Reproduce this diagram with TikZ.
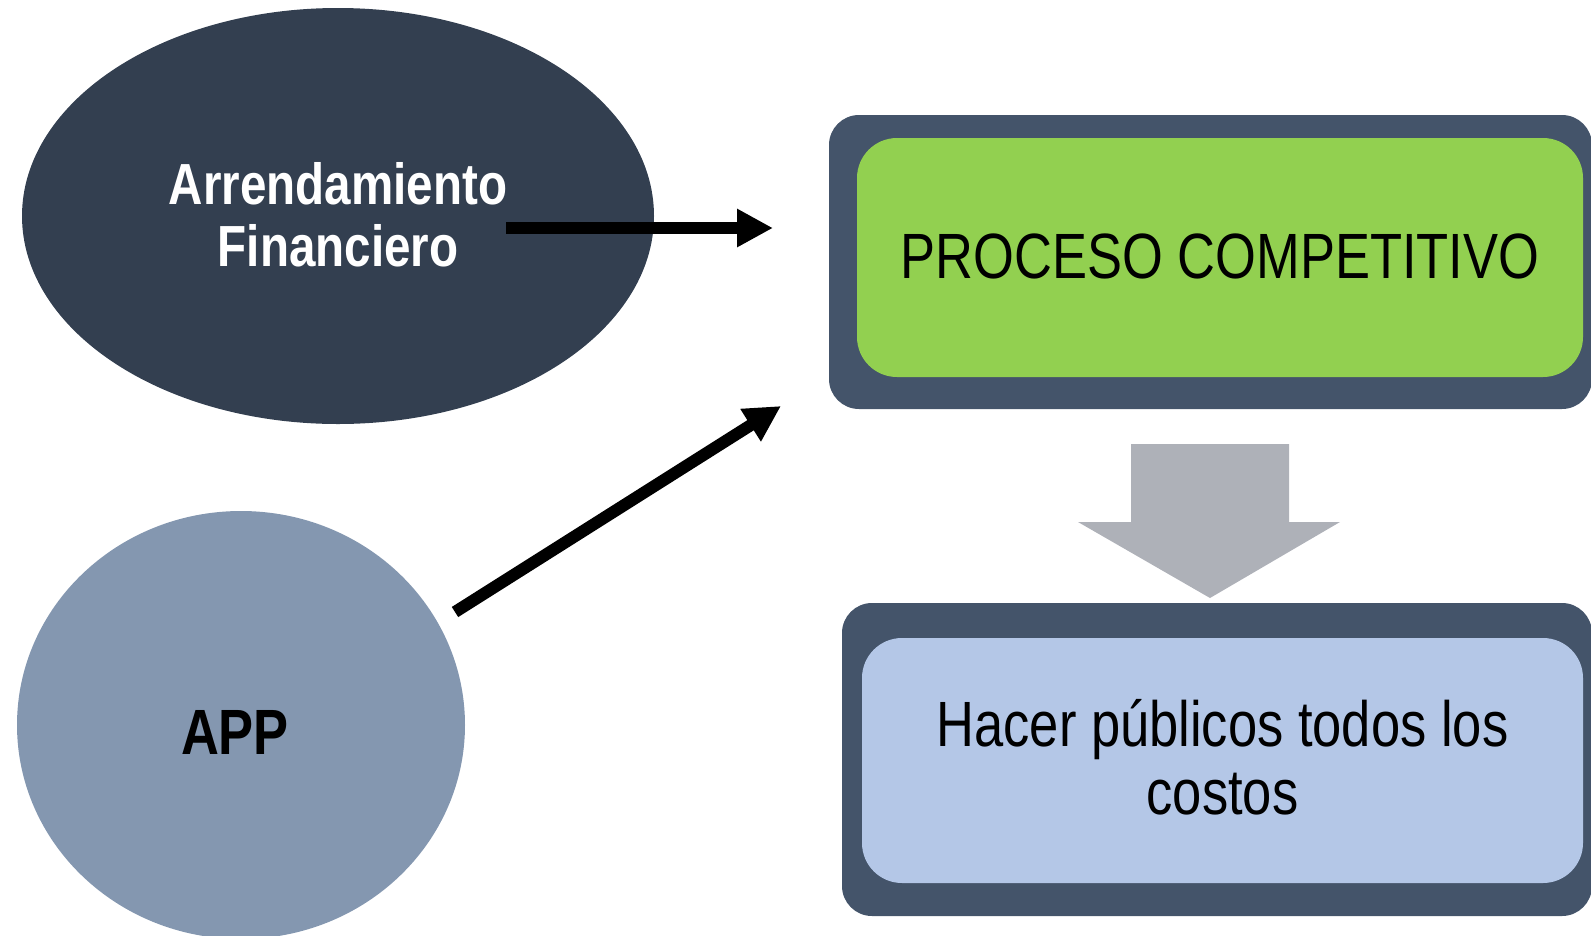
\documentclass[tikz,border=0pt]{standalone}
\usepackage{fontspec}
\setmainfont{Liberation Sans}
\newfontfamily\narrow[FakeStretch=0.82]{Liberation Sans}
\usetikzlibrary{shapes.geometric,arrows.meta}
\definecolor{oscuro}{HTML}{333F50}
\definecolor{marcoazul}{HTML}{44546A}
\definecolor{azulgris}{HTML}{8497B0}
\definecolor{verde}{HTML}{92D050}
\definecolor{celeste}{HTML}{B4C7E7}
\definecolor{gris}{HTML}{AEB1B8}
\begin{document}
\begin{tikzpicture}[x=1pt,y=-1pt,
	flecha/.style={line width=12pt,-{Triangle[length=36pt,width=36pt]}},
	marco/.style={fill=marcoazul,rounded corners=30pt,inner sep=0pt},
	caja/.style={rounded corners=40pt,inner sep=0pt},
	texto/.style={font=\narrow\fontsize{64}{68}\selectfont,align=center,inner sep=0pt},
	negrita/.style={font=\narrow\bfseries\fontsize{58}{62}\selectfont,align=center,inner sep=0pt}]
		\useasboundingbox (0,0) rectangle (1591,935);
		% ellipses
		\node[ellipse,fill=oscuro,minimum width=632pt,minimum height=416pt] (fin) at (338,216) {};
		\node[negrita,text=white] (finT) at (338,215) {Arrendamiento\\Financiero};
		\node[ellipse,fill=azulgris,minimum width=448pt,minimum height=428pt] (app) at (241,725) {};
		\node[negrita,font=\narrow\bfseries\fontsize{64}{68}\selectfont] (appT) at (235,732) {APP};
		% boxes
		\node[marco,minimum width=763pt,minimum height=294pt] (proc) at (1210.5,262) {};
		\node[caja,fill=verde,minimum width=726pt,minimum height=239pt] (procC) at (1220,257.5) {};
		\node[texto] (procT) at (1220,256) {PROCESO COMPETITIVO};
		\node[marco,minimum width=750pt,minimum height=313pt] (hacer) at (1217,759.5) {};
		\node[caja,fill=celeste,minimum width=721pt,minimum height=245pt] (hacerC) at (1222.5,760.5) {};
		\node[texto] (hacerT) at (1222.5,757) {Hacer públicos todos los\\costos};
		% arrows
		\coordinate (a1) at (506,228);
		\coordinate (b1) at (773,228);
		\coordinate (a2) at (455,612);
		\coordinate (b2) at (781,406);
		\draw[flecha] (a1) -- (b1);
		\draw[flecha] (a2) -- (b2);
		\fill[gris] (1131,444) -- (1289,444) -- (1289,522) -- (1340,522) -- (1210,598) -- (1078,522) -- (1131,522) -- cycle;
	\end{tikzpicture}
\end{document}
